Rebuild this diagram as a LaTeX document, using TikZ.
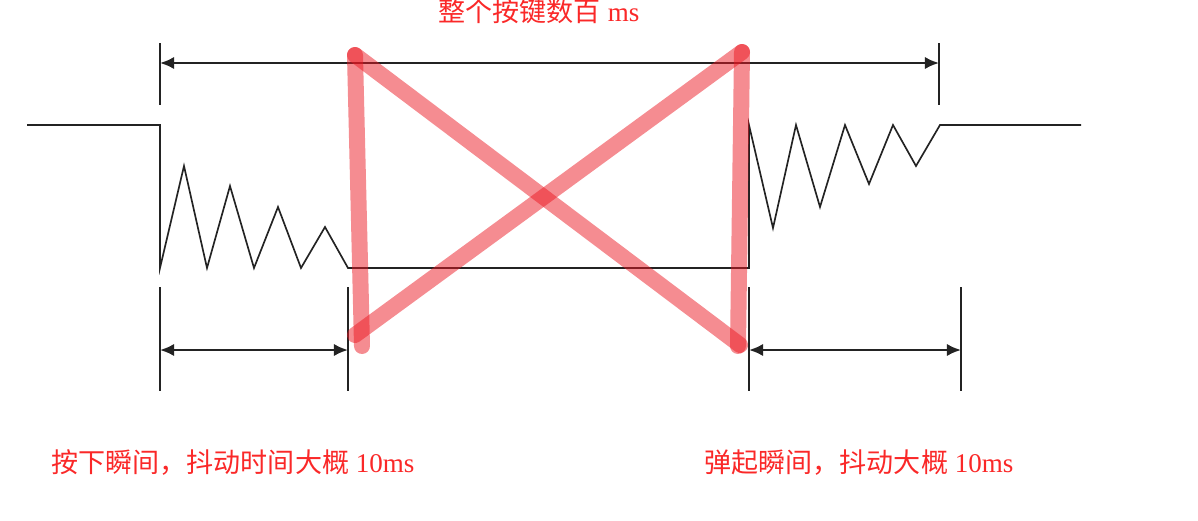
\documentclass[tikz,border=0pt]{standalone}
\usepackage{fontspec}
\setmainfont{Liberation Serif}
\newfontfamily\cjk{Noto Sans CJK SC}
\usetikzlibrary{arrows.meta, positioning}
\definecolor{labelred}{RGB}{250,40,40}
\definecolor{crossred}{RGB}{235,25,35}
\definecolor{wireblack}{RGB}{35,35,35}

\begin{document}
\begin{tikzpicture}[x=0.02cm, y=-0.02cm,
  wire/.style={wireblack, line width=0.95pt},
  dimline/.style={wireblack, line width=1.3pt, {Latex[length=8pt,width=7pt]}-{Latex[length=8pt,width=7pt]}},
  crossline/.style={crossred, opacity=0.5, line width=0.32cm, line cap=round},
  note/.style={labelred, font=\fontsize{15.4}{18}\selectfont, inner sep=0pt}]
\useasboundingbox (0,0) rectangle (1198,521);

% Key signal
\draw[wire] (27,125) -- (160,125) -- (160,268)
  -- (184,166) -- (207,268) -- (230,186) -- (254,268)
  -- (278,207) -- (301,268) -- (325,227) -- (348,268)
  -- (749,268) -- (749,125)
  -- (773,228) -- (796,125) -- (820,207) -- (845,125)
  -- (869,184) -- (893,125) -- (916,166) -- (940,125) -- (1081,125);

% Ticks
\draw[wire] (160,43) -- (160,105);
\draw[wire] (939,43) -- (939,105);
\foreach \x in {160,348,749,961}
  \draw[wire] (\x,287) -- (\x,391);

% Dimension arrows
\coordinate (topL) at (160,63);
\coordinate (topR) at (939,63);
\coordinate (pressL) at (160,350);
\coordinate (pressR) at (348,350);
\coordinate (releaseL) at (749,350);
\coordinate (releaseR) at (961,350);
\draw[dimline] (topL) -- (topR);
\draw[dimline] (pressL) -- (pressR);
\draw[dimline] (releaseL) -- (releaseR);

% Labels
\node[note] (whole) at (539,11) {{\cjk 整个按键数百} ms};
\node[note] (press) at (233,463) {{\cjk 按下瞬间，抖动时间大概} 10ms};
\node[note] (release) at (859,463) {{\cjk 弹起瞬间，抖动大概} 10ms};

% Red cross
\draw[crossline] (362,346) -- (355,55);
\draw[crossline] (355,55) -- (740,345);
\draw[crossline] (355,335) -- (742,52);
\draw[crossline] (742,52) -- (738,346);
\end{tikzpicture}
\end{document}
